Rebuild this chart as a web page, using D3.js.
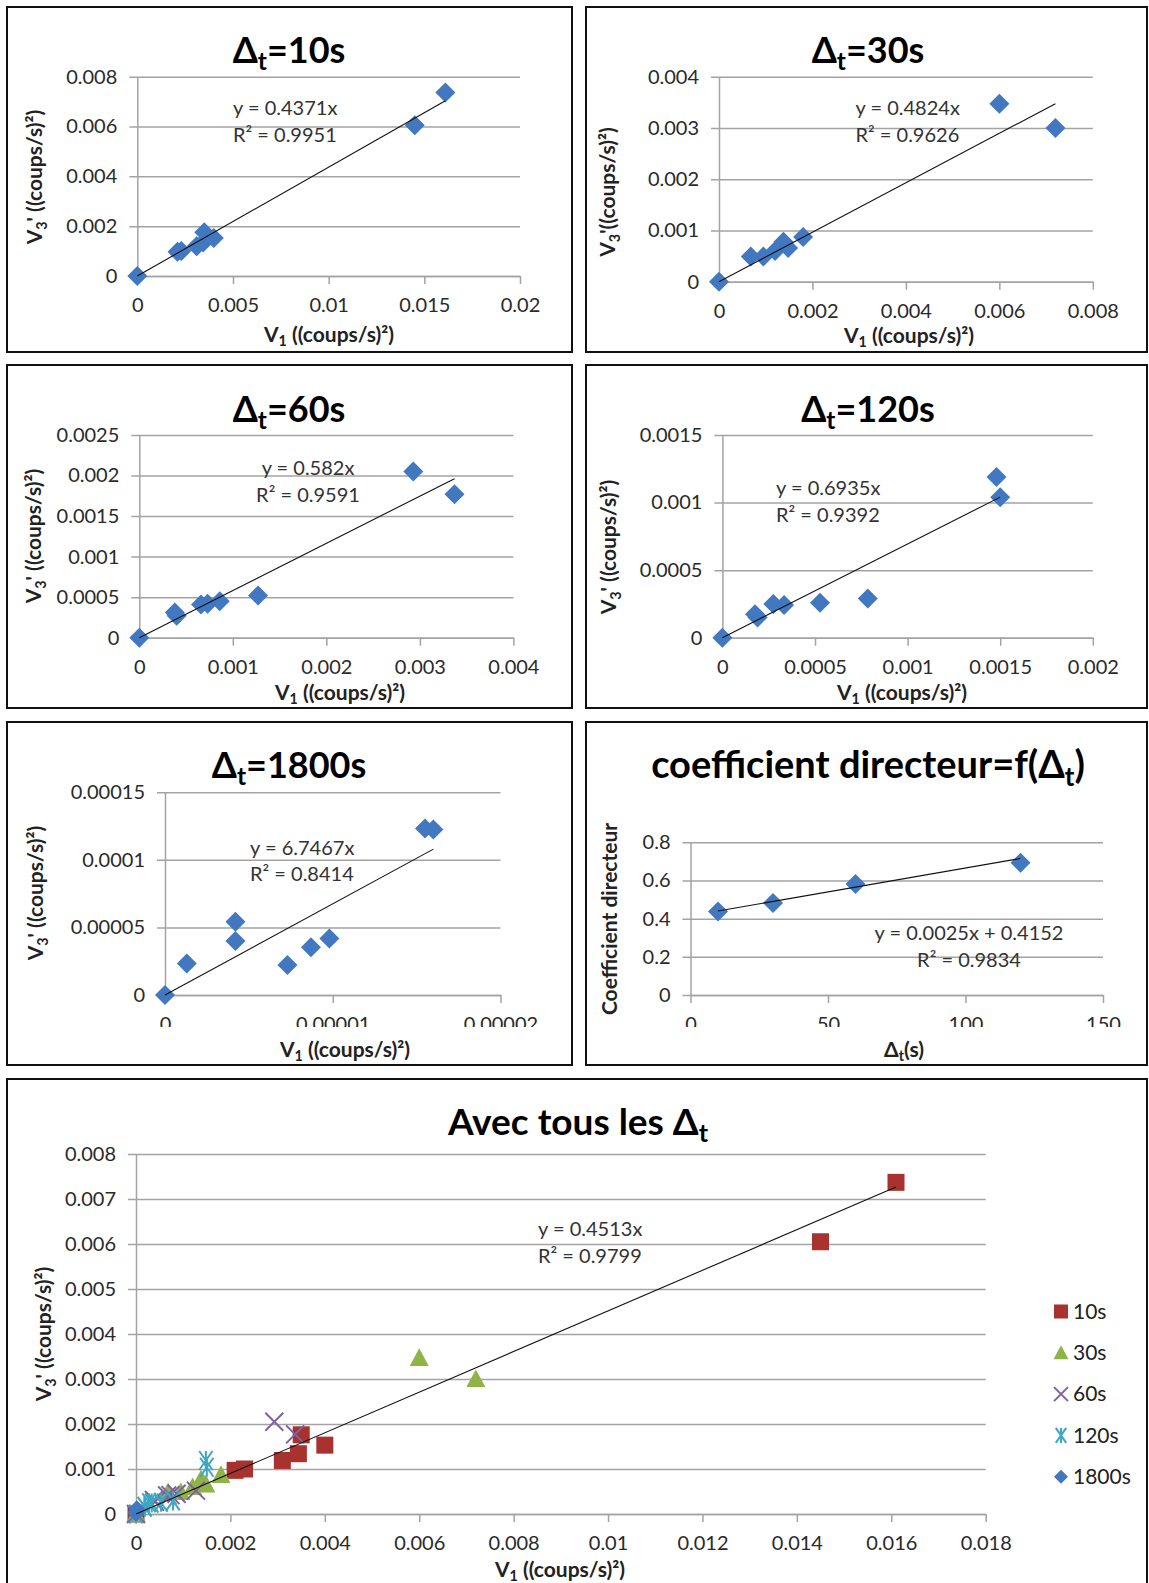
<!DOCTYPE html>
<html><head><meta charset="utf-8">
<script src="https://cdn.jsdelivr.net/npm/d3@7"></script>
<style>body{margin:0;background:#fff;} svg{display:block;}</style>
</head><body>
<script>
// ---------------- DATA ----------------
const v1_10s = [0, 0.0021, 0.0023, 0.0031, 0.00344, 0.0035, 0.004, 0.0145, 0.0161];
const v3_10s = [0, 0.00097, 0.001, 0.00119, 0.00134, 0.00176, 0.00153, 0.00605, 0.00737];
const v1_30s = [0, 0.00068, 0.00095, 0.0012, 0.00138, 0.00148, 0.0018, 0.006, 0.0072];
const v3_30s = [0, 0.00049, 0.00049, 0.0006, 0.00078, 0.00066, 0.00087, 0.00347, 0.003];
const v1_60s = [0, 0.00038, 0.0004, 0.00066, 0.00073, 0.00086, 0.00127, 0.00293, 0.00337];
const v3_60s = [0, 0.00031, 0.00027, 0.00041, 0.00042, 0.00045, 0.00052, 0.00205, 0.00177];
const v1_120s = [0, 0.000176, 0.00019, 0.000275, 0.000333, 0.000527, 0.000785, 0.00148, 0.0015];
const v3_120s = [0, 0.000173, 0.00015, 0.000249, 0.000242, 0.000259, 0.000291, 0.00119, 0.00104];
const v1_1800s = [0, 0.0000013, 0.0000042, 0.0000042, 0.0000073, 0.0000087, 0.0000098, 0.0000155, 0.000016];
const v3_1800s = [0, 0.0000234, 0.0000542, 0.00004, 0.0000222, 0.0000353, 0.0000419, 0.0001233, 0.0001225];

const deltaT = [10, 30, 60, 120];
const coeffDirecteur = [0.4371, 0.4824, 0.582, 0.6935];

const seriesNames = ["10s", "30s", "60s", "120s", "1800s"];
const trendSlopes = [0.4371, 0.4824, 0.582, 0.6935, 6.7467];
const trendR2 = ["0.9951", "0.9626", "0.9591", "0.9392", "0.8414"];
const allSlope = 0.4513, allR2 = "0.9799";
const coefSlope = 0.0025, coefIntercept = 0.4152, coefR2 = "0.9834";

const xTicks10 = [0, 0.005, 0.01, 0.015, 0.02];
const yTicks10 = [0, 0.002, 0.004, 0.006, 0.008];
const xTicks30 = [0, 0.002, 0.004, 0.006, 0.008];
const yTicks30 = [0, 0.001, 0.002, 0.003, 0.004];
const xTicks60 = [0, 0.001, 0.002, 0.003, 0.004];
const yTicks60 = [0, 0.0005, 0.001, 0.0015, 0.002, 0.0025];
const xTicks120 = [0, 0.0005, 0.001, 0.0015, 0.002];
const yTicks120 = [0, 0.0005, 0.001, 0.0015];
const xTicks1800 = [0, 0.00001, 0.00002];
const yTicks1800 = [0, 0.00005, 0.0001, 0.00015];
const xTicksCoef = [0, 50, 100, 150];
const yTicksCoef = [0, 0.2, 0.4, 0.6, 0.8];
const xTicksAll = [0, 0.002, 0.004, 0.006, 0.008, 0.01, 0.012, 0.014, 0.016, 0.018];
const yTicksAll = [0, 0.001, 0.002, 0.003, 0.004, 0.005, 0.006, 0.007, 0.008];

// ---------------- DRAWING ----------------
const FONT = "Lato, 'Open Sans', 'DejaVu Sans', sans-serif";
const GRID = "#a3a3a3";
const COLORS = {blue:"#4178c0", red:"#a8322d", green:"#8fb347", purple:"#7e62a1", cyan:"#3fa7c3"};
const LABEL_FS = 21;

const svg = d3.select("body").append("svg").attr("width", 1149).attr("height", 1583)
  .attr("font-family", FONT);
svg.append("defs").append("clipPath").attr("id", "clipTicks")
  .append("rect").attr("x", 0).attr("y", -20).attr("width", 1149).attr("height", 52);

function rich(sel, parts, fs) {
  let shift = 0;
  parts.forEach(p => {
    const t = sel.append("tspan").text(p.t);
    if (p.sub) { t.attr("font-size", fs * 0.68).attr("dy", fs * 0.2 - shift); shift = fs * 0.2; }
    else if (shift) { t.attr("dy", -shift); shift = 0; }
  });
  return sel;
}

const markerPath = {
  diamond: r => `M0,${-r}L${r},0L0,${r}L${-r},0Z`,
  square: r => `M${-r},${-r}H${r}V${r}H${-r}Z`,
  triangle: r => `M0,${-r}L${r},${r*0.85}L${-r},${r*0.85}Z`,
  x: r => `M${-r},${-r}L${r},${r}M${-r},${r}L${r},${-r}`,
  star: r => `M${-r*0.7},${-r}L${r*0.7},${r}M${-r*0.7},${r}L${r*0.7},${-r}M0,${-r}V${r}`
};
function drawMarker(g, shape, color, r) {
  const p = g.append("path").attr("d", markerPath[shape](r));
  if (shape === "x" || shape === "star") p.attr("fill", "none").attr("stroke", color).attr("stroke-width", 2);
  else p.attr("fill", color);
  return p;
}

function panel(c) {
  svg.append("rect").attr("x", c.box[0]).attr("y", c.box[1]).attr("width", c.box[2] - c.box[0])
    .attr("height", c.box[3] - c.box[1]).attr("fill", "none").attr("stroke", "#111").attr("stroke-width", 2);
  const x = d3.scaleLinear().domain([0, d3.max(c.xTicks)]).range([c.xr[0], c.xr[1]]);
  const y = d3.scaleLinear().domain([0, d3.max(c.yTicks)]).range([c.yr[0], c.yr[1]]);
  const w = c.xr[1] - c.xr[0];
  const gy = svg.append("g").attr("transform", `translate(${c.xr[0]},0)`)
    .call(d3.axisLeft(y).tickValues(c.yTicks).tickFormat(d => String(d)).tickSize(0).tickPadding(20));
  gy.select(".domain").attr("stroke", GRID).attr("stroke-width", 1.5);
  gy.selectAll(".tick line").attr("x1", -8).attr("x2", w).attr("stroke", GRID).attr("stroke-width", 1.5);
  gy.selectAll(".tick text").attr("font-size", 20).attr("fill", "#2a2a2a").attr("font-family", FONT);
  const gx = svg.append("g").attr("transform", `translate(0,${c.yr[0]})`)
    .call(d3.axisBottom(x).tickValues(c.xTicks).tickFormat(d => String(d)).tickSize(8).tickPadding(14).tickSizeOuter(0));
  gx.select(".domain").attr("stroke", GRID).attr("stroke-width", 1.5);
  gx.selectAll(".tick line").attr("stroke", GRID).attr("stroke-width", 1.5);
  gx.selectAll(".tick text").attr("font-size", 20).attr("fill", "#2a2a2a").attr("font-family", FONT);
  if (c.clipTicks) gx.attr("clip-path", "url(#clipTicks)");
  const tfs = c.titleFs || 36;
  rich(svg.append("text").attr("x", c.title[0]).attr("y", c.title[1]).attr("text-anchor", "middle")
    .attr("font-size", tfs).attr("font-weight", "bold").attr("fill", "#000"), c.titleParts, tfs);
  rich(svg.append("text").attr("x", c.xl[0]).attr("y", c.xl[1]).attr("text-anchor", "middle")
    .attr("font-size", LABEL_FS).attr("font-weight", "bold").attr("fill", "#222"), c.xlParts, LABEL_FS);
  rich(svg.append("text").attr("transform", `translate(${c.yl[0]},${c.yl[1]}) rotate(-90)`)
    .attr("text-anchor", "middle").attr("dy", "0.35em")
    .attr("font-size", LABEL_FS).attr("font-weight", "bold").attr("fill", "#222"), c.ylParts, LABEL_FS);
  const eq = svg.append("g").attr("font-size", 20).attr("fill", "#333");
  eq.append("text").attr("x", c.eq[0]).attr("y", c.eq[1]).attr("text-anchor", c.eqAnchor || "start").text(c.eqLines[0]);
  eq.append("text").attr("x", c.eq[0]).attr("y", c.eq[2]).attr("text-anchor", c.eqAnchor || "start").text(c.eqLines[1]);
  return {x, y};
}

const xlV1 = [{t:"V"},{t:"1",sub:true},{t:" ((coups/s)²)"}];
const ylV3 = [{t:"V"},{t:"3",sub:true},{t:"' ((coups/s)²)"}];
const ylV3b = [{t:"V"},{t:"3",sub:true},{t:"'((coups/s)²)"}];
const dtTitle = s => [{t:"Δ"},{t:"t",sub:true},{t:"=" + s}];

function scatterPanel(c, xs, ys, slope) {
  const {x, y} = panel(c);
  const pts = svg.append("g");
  xs.forEach((v, i) => {
    drawMarker(pts.append("g").attr("transform", `translate(${x(v)},${y(ys[i])})`), "diamond", COLORS.blue, 10);
  });
  const xmax = d3.max(xs);
  svg.append("path").attr("d", d3.line().x(d => x(d)).y(d => y(slope * d))([0, xmax]))
    .attr("stroke", "#111").attr("stroke-width", 1.1).attr("fill", "none");
}

const eqText = (s, r2) => ["y = " + s + "x", "R² = " + r2];

scatterPanel({box:[7,7,572,352], xr:[137.3,520], yr:[276,76.7], xTicks:xTicks10, yTicks:yTicks10,
  title:[289,63], titleParts:dtTitle("10s"), xl:[329,342], xlParts:xlV1, yl:[35,177], ylParts:ylV3,
  eq:[233,114.5,141.5], eqLines:eqText(trendSlopes[0], trendR2[0])}, v1_10s, v3_10s, trendSlopes[0]);

scatterPanel({box:[586,7,1147,352], xr:[719,1092.8], yr:[281.7,76.7], xTicks:xTicks30, yTicks:yTicks30,
  title:[868,63], titleParts:dtTitle("30s"), xl:[909,343], xlParts:xlV1, yl:[608,192], ylParts:ylV3b,
  eq:[855.5,115,141.5], eqLines:eqText(trendSlopes[1], trendR2[1])}, v1_30s, v3_30s, trendSlopes[1]);

scatterPanel({box:[7,365,572,708], xr:[139.3,513.4], yr:[637.7,435], xTicks:xTicks60, yTicks:yTicks60,
  title:[289,421.5], titleParts:dtTitle("60s"), xl:[340,700], xlParts:xlV1, yl:[34,536], ylParts:ylV3,
  eq:[308,475,501.5], eqAnchor:"middle", eqLines:eqText(trendSlopes[2], trendR2[2])}, v1_60s, v3_60s, trendSlopes[2]);

scatterPanel({box:[586,365,1147,708], xr:[722.4,1092.8], yr:[637.7,435], xTicks:xTicks120, yTicks:yTicks120,
  title:[868,421.5], titleParts:dtTitle("120s"), xl:[902,700], xlParts:xlV1, yl:[609,547], ylParts:ylV3,
  eq:[776,495,521.5], eqLines:eqText(trendSlopes[3], trendR2[3])}, v1_120s, v3_120s, trendSlopes[3]);

scatterPanel({box:[7,722,572,1065], xr:[165,500.5], yr:[995,792.3], xTicks:xTicks1800, yTicks:yTicks1800, clipTicks:true,
  title:[289,778], titleParts:dtTitle("1800s"), xl:[345,1057], xlParts:xlV1, yl:[36,893], ylParts:ylV3,
  eq:[250,854.5,880.5], eqLines:eqText(trendSlopes[4], trendR2[4])}, v1_1800s, v3_1800s, trendSlopes[4]);

{
  const {x, y} = panel({box:[586,722,1147,1065], xr:[690.5,1103], yr:[995,842.3], xTicks:xTicksCoef, yTicks:yTicksCoef, clipTicks:true,
    title:[868,778], titleFs:38, titleParts:[{t:"coefficient directeur=f(Δ"},{t:"t",sub:true},{t:")"}],
    xl:[904,1057], xlParts:[{t:"Δ"},{t:"t",sub:true},{t:"(s)"}], yl:[610,919], ylParts:[{t:"Coefficient directeur"}],
    eq:[969,940,966.5], eqAnchor:"middle",
    eqLines:["y = " + coefSlope + "x + " + coefIntercept, "R² = " + coefR2]});
  deltaT.forEach((v, i) => drawMarker(svg.append("g").attr("transform", `translate(${x(v)},${y(coeffDirecteur[i])})`), "diamond", COLORS.blue, 10));
  const ends = [d3.min(deltaT), d3.max(deltaT)];
  svg.append("path").attr("d", d3.line().x(d => x(d)).y(d => y(coefSlope * d + coefIntercept))(ends))
    .attr("stroke", "#111").attr("stroke-width", 1.1).attr("fill", "none");
}

{
  const {x, y} = panel({box:[7,1079,1147,1600], xr:[136,985.7], yr:[1514,1154], xTicks:xTicksAll, yTicks:yTicksAll,
    title:[578,1135], titleFs:37, titleParts:[{t:"Avec tous les Δ"},{t:"t",sub:true}],
    xl:[560,1577], xlParts:xlV1, yl:[44,1334], ylParts:ylV3,
    eq:[538,1236,1262.5], eqLines:eqText(allSlope, allR2)});
  const sets = [
    {xs:v1_10s, ys:v3_10s, shape:"square", color:COLORS.red, r:8.5},
    {xs:v1_30s, ys:v3_30s, shape:"triangle", color:COLORS.green, r:9.5},
    {xs:v1_60s, ys:v3_60s, shape:"x", color:COLORS.purple, r:9},
    {xs:v1_120s, ys:v3_120s, shape:"star", color:COLORS.cyan, r:9.5},
    {xs:v1_1800s, ys:v3_1800s, shape:"diamond", color:COLORS.blue, r:8}
  ];
  sets.forEach(s => {
    const g = svg.append("g");
    s.xs.forEach((v, i) => drawMarker(g.append("g").attr("transform", `translate(${x(v)},${y(s.ys[i])})`), s.shape, s.color, s.r));
  });
  const xmax = d3.max([].concat(v1_10s, v1_30s, v1_60s, v1_120s, v1_1800s));
  svg.append("path").attr("d", d3.line().x(d => x(d)).y(d => y(allSlope * d))([0, xmax]))
    .attr("stroke", "#111").attr("stroke-width", 1.1).attr("fill", "none");
  const lg = svg.append("g");
  const legR = [7, 7.5, 7, 7.5, 7];
  sets.forEach((s, i) => {
    const cy = 1311.5 + i * 41.3;
    drawMarker(lg.append("g").attr("transform", `translate(1061,${cy})`), s.shape, s.color, legR[i]);
    lg.append("text").attr("x", 1073).attr("y", cy).attr("dy", "0.35em").attr("font-size", 21).attr("fill", "#222").text(seriesNames[i]);
  });
}
</script>
</body></html>
